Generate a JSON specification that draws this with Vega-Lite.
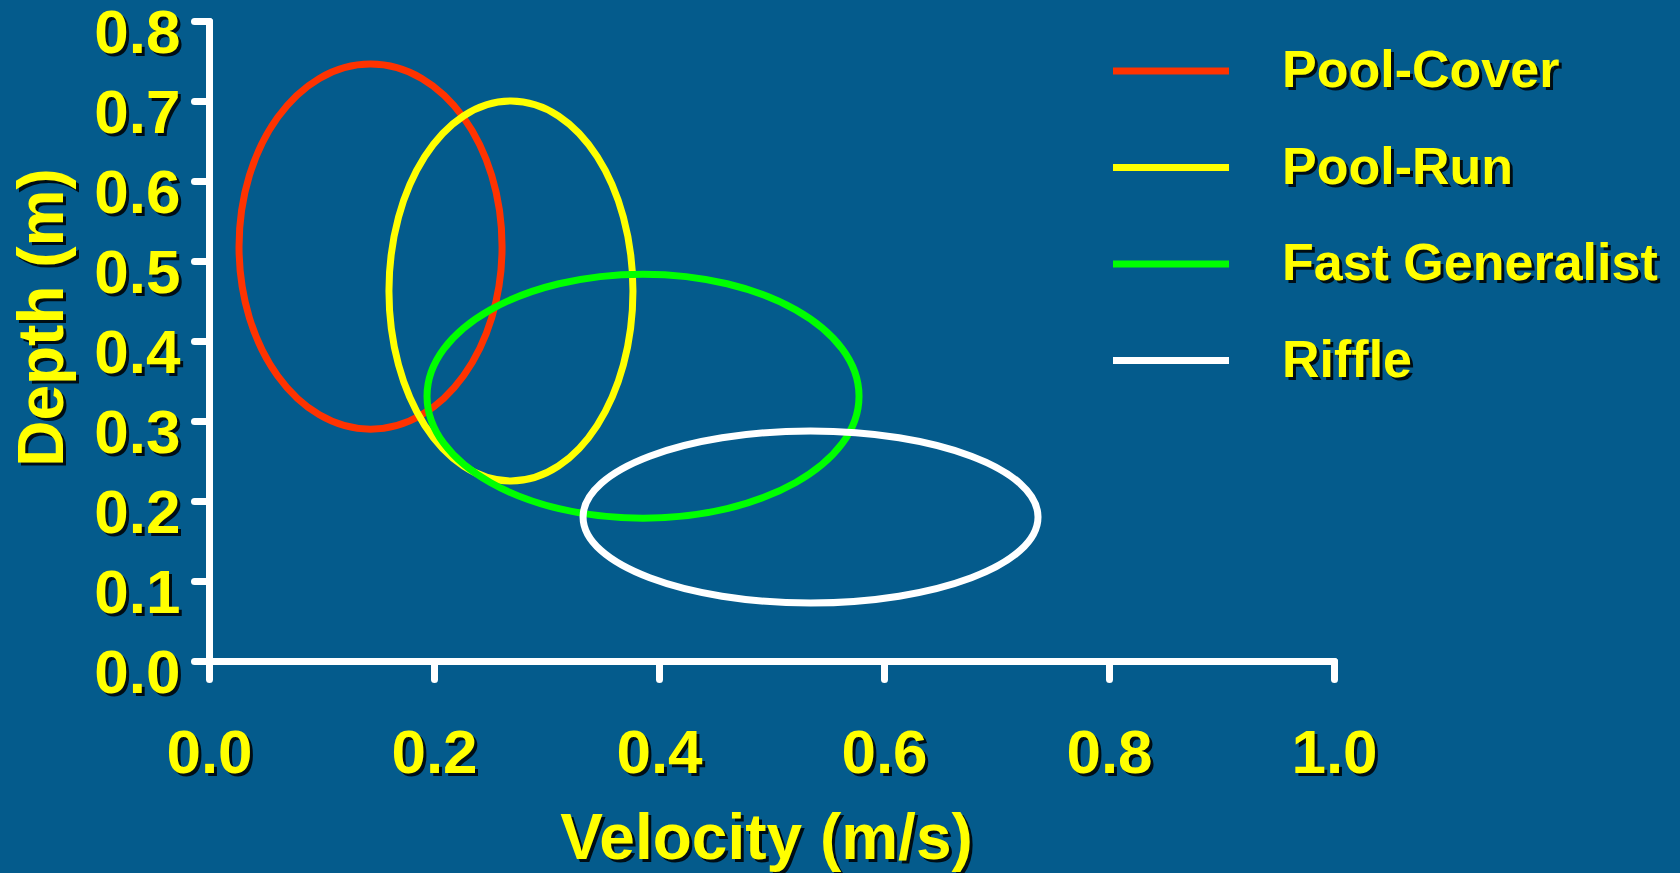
{
  "$schema": "https://vega.github.io/schema/vega-lite/v6.json",
  "width": 1125,
  "height": 640,
  "autosize": {"type": "none"},
  "padding": {"left": 209, "top": 21, "right": 346, "bottom": 212},
  "background": "#045b8c",
  "config": {"view": {"stroke": null}, "font": "Liberation Sans"},
  "data": {
    "values": [
      {"guild": "Pool-Cover", "velocity": 0.1436, "depth": 0.518, "velocity_span": 0.2338, "depth_span": 0.456},
      {"guild": "Pool-Run", "velocity": 0.2684, "depth": 0.4625, "velocity_span": 0.2169, "depth_span": 0.475},
      {"guild": "Fast Generalist", "velocity": 0.3858, "depth": 0.331, "velocity_span": 0.384, "depth_span": 0.305},
      {"guild": "Riffle", "velocity": 0.5347, "depth": 0.18, "velocity_span": 0.4044, "depth_span": 0.215}
    ]
  },
  "layer": [
    {
      "mark": {"type": "point", "opacity": 0},
      "encoding": {
        "x": {
          "field": "velocity", "type": "quantitative",
          "scale": {"domain": [0, 1], "nice": false, "zero": true},
          "axis": {
            "orient": "bottom", "zindex": 0,
            "values": [0, 0.2, 0.4, 0.6, 0.8, 1], "format": ".1f", "grid": false,
            "domainOpacity": 0, "tickOpacity": 0, "tickSize": 18, "tickWidth": 7,
            "labelFont": "Liberation Sans", "labelFontSize": 62, "labelFontWeight": "bold", "labelColor": "#000000", "labelOpacity": 0.85,
            "labelPadding": 47, "labelOffset": 3, "labelFlush": false, "labelOverlap": false,
            "title": "Velocity (m/s)", "titleFont": "Liberation Sans", "titleFontSize": 64, "titleFontWeight": "bold",
            "titleColor": "#000000", "titleOpacity": 0.85, "titleX": 560, "titleY": 200, "titleBaseline": "alphabetic", "titleAlign": "center"
          }
        },
        "y": {
          "field": "depth", "type": "quantitative",
          "scale": {"domain": [0, 0.8], "nice": false, "zero": true},
          "axis": {
            "orient": "left", "zindex": 0,
            "values": [0, 0.1, 0.2, 0.3, 0.4, 0.5, 0.6, 0.7, 0.8], "format": ".1f", "grid": false,
            "domainOpacity": 0, "tickOpacity": 0, "tickSize": 15, "tickWidth": 7,
            "labelFont": "Liberation Sans", "labelFontSize": 62, "labelFontWeight": "bold", "labelColor": "#000000", "labelOpacity": 0.85,
            "labelPadding": 11, "labelOffset": 15, "labelFlush": false, "labelOverlap": false,
            "title": "Depth (m)", "titleFont": "Liberation Sans", "titleFontSize": 64, "titleFontWeight": "bold",
            "titleColor": "#000000", "titleOpacity": 0.85, "titleX": -144, "titleY": 299, "titleAngle": -90, "titleBaseline": "alphabetic", "titleAlign": "center"
          }
        },
        "stroke": {
          "field": "guild", "type": "nominal",
          "sort": ["Pool-Cover", "Pool-Run", "Fast Generalist", "Riffle"],
          "scale": {"range": ["#000000", "#000000", "#000000", "#000000"]},
          "legend": {
            "title": null, "orient": "none", "legendX": 903.5, "legendY": -8.5, "padding": 0, "zindex": 0,
            "symbolType": "stroke", "symbolSize": 13456, "symbolStrokeWidth": 7, "symbolOpacity": 0,
            "labelFont": "Liberation Sans", "labelFontWeight": "bold", "labelFontSize": 52, "labelColor": "#000000", "labelOpacity": 0.85,
            "labelOffset": 49.5, "rowPadding": 8.5, "labelLimit": 700
          }
        }
      }
    },
    {
      "transform": [{"filter": "datum.guild === 'Pool-Cover'"}],
      "mark": {"type": "point", "filled": false, "strokeWidth": 7, "opacity": 1,
        "shape": "M1,0C1,0.7666,0.5523,1.388,0,1.388C-0.5523,1.388,-1,0.7666,-1,0C-1,-0.7666,-0.5523,-1.388,0,-1.388C0.5523,-1.388,1,-0.7666,1,0Z"},
      "encoding": {
        "x": {
          "field": "velocity", "type": "quantitative",
          "axis": {
            "orient": "bottom", "zindex": 1,
            "values": [0, 0.2, 0.4, 0.6, 0.8, 1], "format": ".1f", "grid": false,
            "domainColor": "#ffffff", "domainWidth": 7, "domainCap": "round",
            "tickColor": "#ffffff", "tickWidth": 7, "tickSize": 18, "tickCap": "round",
            "labelFont": "Liberation Sans", "labelFontSize": 62, "labelFontWeight": "bold", "labelColor": "#ffff00",
            "labelPadding": 44, "labelFlush": false, "labelOverlap": false,
            "title": "Velocity (m/s)", "titleFont": "Liberation Sans", "titleFontSize": 64, "titleFontWeight": "bold",
            "titleColor": "#ffff00", "titleX": 557, "titleY": 197, "titleBaseline": "alphabetic", "titleAlign": "center"
          }
        },
        "y": {
          "field": "depth", "type": "quantitative",
          "axis": {
            "orient": "left", "zindex": 1,
            "values": [0, 0.1, 0.2, 0.3, 0.4, 0.5, 0.6, 0.7, 0.8], "format": ".1f", "grid": false,
            "domainColor": "#ffffff", "domainWidth": 7, "domainCap": "round",
            "tickColor": "#ffffff", "tickWidth": 7, "tickSize": 15, "tickCap": "round",
            "labelFont": "Liberation Sans", "labelFontSize": 62, "labelFontWeight": "bold", "labelColor": "#ffff00",
            "labelPadding": 14, "labelOffset": 12, "labelFlush": false, "labelOverlap": false,
            "title": "Depth (m)", "titleFont": "Liberation Sans", "titleFontSize": 64, "titleFontWeight": "bold",
            "titleColor": "#ffff00", "titleX": -147, "titleY": 296, "titleAngle": -90, "titleBaseline": "alphabetic", "titleAlign": "center"
          }
        },
        "size": {
          "field": "velocity_span", "type": "quantitative",
          "scale": {"type": "pow", "exponent": 2, "domain": [0, 1], "range": [0, 1265625]},
          "legend": null
        },
        "color": {
          "field": "guild", "type": "nominal",
          "scale": {
            "domain": ["Pool-Cover", "Pool-Run", "Fast Generalist", "Riffle"],
            "range": ["#ff3300", "#ffff00", "#00ff00", "#ffffff"]
          },
          "legend": {
            "title": null, "orient": "none", "legendX": 900.5, "legendY": -11.5, "padding": 0, "zindex": 1,
            "symbolType": "stroke", "symbolSize": 13456, "symbolStrokeWidth": 7, "symbolOpacity": 1,
            "labelFont": "Liberation Sans", "labelFontWeight": "bold", "labelFontSize": 52, "labelColor": "#ffff00",
            "labelOffset": 49.5, "rowPadding": 8.5, "labelLimit": 700
          }
        }
      }
    },
    {
      "transform": [{"filter": "datum.guild === 'Pool-Run'"}],
      "mark": {"type": "point", "filled": false, "strokeWidth": 7, "opacity": 1,
        "shape": "M1,0C1,0.8599,0.5523,1.557,0,1.557C-0.5523,1.557,-1,0.8599,-1,0C-1,-0.8599,-0.5523,-1.557,0,-1.557C0.5523,-1.557,1,-0.8599,1,0Z"},
      "encoding": {
        "x": {"field": "velocity", "type": "quantitative", "axis": null},
        "y": {"field": "depth", "type": "quantitative", "axis": null},
        "size": {"field": "velocity_span", "type": "quantitative", "legend": null},
        "color": {"field": "guild", "type": "nominal"}
      }
    },
    {
      "transform": [{"filter": "datum.guild === 'Fast Generalist'"}],
      "mark": {"type": "point", "filled": false, "strokeWidth": 7, "opacity": 1,
        "shape": "M1,0C1,0.312,0.5523,0.565,0,0.565C-0.5523,0.565,-1,0.312,-1,0C-1,-0.312,-0.5523,-0.565,0,-0.565C0.5523,-0.565,1,-0.312,1,0Z"},
      "encoding": {
        "x": {"field": "velocity", "type": "quantitative", "axis": null},
        "y": {"field": "depth", "type": "quantitative", "axis": null},
        "size": {"field": "velocity_span", "type": "quantitative", "legend": null},
        "color": {"field": "guild", "type": "nominal"}
      }
    },
    {
      "transform": [{"filter": "datum.guild === 'Riffle'"}],
      "mark": {"type": "point", "filled": false, "strokeWidth": 7, "opacity": 1,
        "shape": "M1,0C1,0.2088,0.5523,0.378,0,0.378C-0.5523,0.378,-1,0.2088,-1,0C-1,-0.2088,-0.5523,-0.378,0,-0.378C0.5523,-0.378,1,-0.2088,1,0Z"},
      "encoding": {
        "x": {"field": "velocity", "type": "quantitative", "axis": null},
        "y": {"field": "depth", "type": "quantitative", "axis": null},
        "size": {"field": "velocity_span", "type": "quantitative", "legend": null},
        "color": {"field": "guild", "type": "nominal"}
      }
    }
  ],
  "resolve": {"axis": {"x": "independent", "y": "independent"}}
}
